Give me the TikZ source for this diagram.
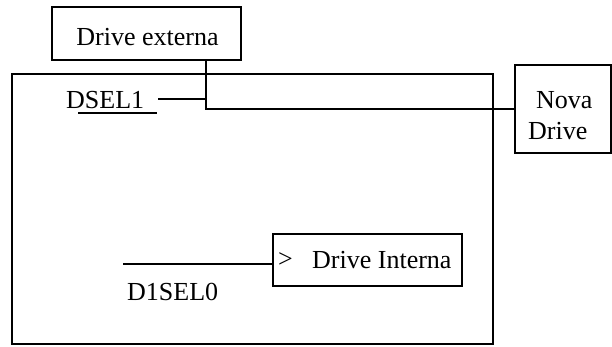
\documentclass[tikz,border=0pt]{standalone}
\usepackage{fontspec}
\setmainfont{Liberation Serif}
\begin{document}
\begin{tikzpicture}[x=1pt,y=-1pt,
  box/.style={draw,line width=1.4pt,inner sep=0pt},
  lbl/.style={inner sep=0pt,font=\fontsize{26}{30}\selectfont},
  wire/.style={line width=1.2pt}]
\useasboundingbox (0,0) rectangle (612,346);
% boxes
\node[box,minimum width=189pt,minimum height=53pt] (ext) at (146.5,33.5) {};
\node[lbl,anchor=base] (exttxt) at (147.5,45) {Drive externa};
\node[box,minimum width=481pt,minimum height=270pt] (main) at (252.5,209) {};
\node[box,minimum width=96pt,minimum height=88pt] (nova) at (563,109) {};
\node[lbl,anchor=base west] (novatxt) at (536,108) {Nova};
\node[lbl,anchor=base west] (drivetxt) at (528,139) {Drive};
\node[box,minimum width=189pt,minimum height=52pt] (int) at (367.5,260) {};
\node[lbl,anchor=base west] (gt) at (278,267) {>};
\node[lbl,anchor=base west] (inttxt) at (312,268) {Drive Interna};
% signal labels
\node[lbl,anchor=base west] (dsel1) at (66,108) {DSEL1};
\node[lbl,anchor=base west] (d1sel0) at (127,300) {D1SEL0};
\draw[line width=1.3pt] (78,113) -- (157,113);
% connectors
\coordinate (dselend) at (158,99);
\coordinate (junc) at (206,99);
\coordinate (corner) at (206,109);
\coordinate (selstart) at (123,264);
\draw[wire] (dselend) -- (junc);
\draw[wire] (ext.south -| junc) -- (corner) -- (nova.west);
\draw[wire] (selstart) -- (int.west |- selstart);
\end{tikzpicture}
\end{document}
